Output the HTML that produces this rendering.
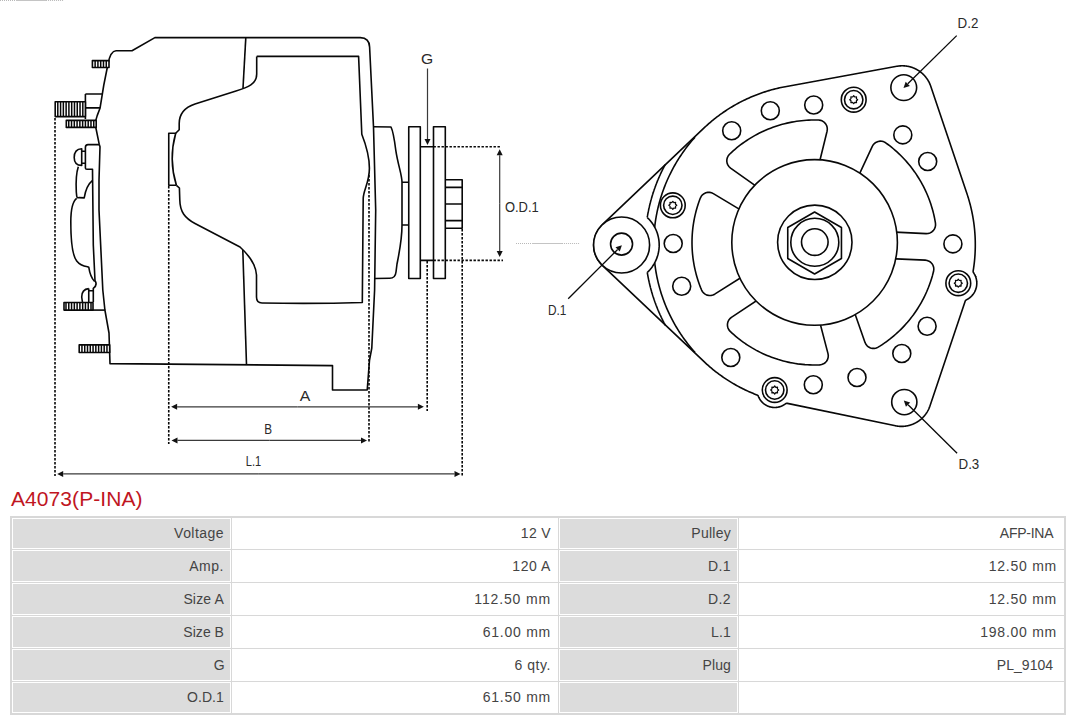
<!DOCTYPE html>
<html><head><meta charset="utf-8"><style>
html,body{margin:0;padding:0;background:#fff;}
body{width:1080px;height:720px;position:relative;overflow:hidden;font-family:"Liberation Sans",sans-serif;}
.tb{position:absolute;background:#d8d8d8;}
.c{position:absolute;box-sizing:border-box;border:1px solid #fff;text-align:right;padding-right:6px;font-size:14px;color:#444;white-space:pre;}
.lab{background:#dcdcdc;}
.val{background:#fff;}
.title{position:absolute;left:11px;top:485.5px;font-size:21px;color:#c0161f;letter-spacing:0.070px;white-space:nowrap;line-height:26px;}
svg{position:absolute;left:0;top:0;}
.lb{font-family:"Liberation Sans",sans-serif;}
</style></head><body>
<svg width="1080" height="720" viewBox="0 0 1080 720" stroke-linejoin="round" stroke-linecap="butt">
<path d="M154.9 37.6 L360.3 37.6 Q369.3 37.8 369.6 47 L373.5 126.7 L375.7 210 L374.6 290 L371.8 348 L369.5 360.3 L367.2 390 L332.5 390 L332.5 365.6 L110 363.6 L109 333 L104.9 310 L102.8 290 L99 210 L99 180 L100 146.7 L99.2 144.2 L95.8 127.5 L95.8 120.4 L97.2 115.6 L100 108.3 L103.8 85 L108 64 Q110.5 51 116 50.8 L132 50.8 Z" fill="none" stroke="#080808" stroke-width="1.6" />
<path d="M245.8 37.6 L243 88.3" fill="none" stroke="#080808" stroke-width="1.6" />
<path d="M256.7 56.4 L358.6 56.4 L361.8 134.3 C366 145 369.4 155 369.4 168.3 C369.4 183 363.2 190 363.2 198.9 L362.3 302.5 C330 303.5 290 303.5 262 303 Q256.5 303 256.5 297 L256.5 275 C256 266 252 258 240 247 L195 223.5 C185 218 180 212 179.8 200 L179.4 188 L176.4 185.3 M175.7 133.2 L179.2 129.7 L179.2 124 C179 112 186 107 195 104 L236 91 C248 87.5 256.7 84 256.7 74 L256.7 56.4" fill="none" stroke="#080808" stroke-width="1.6" />
<path d="M176.4 185.3 L168.75 185.3 L168.75 133.2 L175.7 133.2 C171 150 171 168 176.4 185.3" fill="none" stroke="#080808" stroke-width="1.6" />
<path d="M242.8 250 L246.5 364.3" fill="none" stroke="#080808" stroke-width="1.6" />
<path d="M99.2 144.6 L88 144.6 Q85.4 144.6 85.4 147.5 L85.4 167.9 Q85.4 169.2 87 169.2 L92.5 169.2 L93.3 245 L95 280.8 C96.8 283.5 96.5 286 93.3 288.3 L93.3 302" fill="none" stroke="#080808" stroke-width="1.6" />
<path d="M81.7 151.25 L85.4 151.25 M81.7 163.3 L85.4 163.3 M81.7 148.75 C76 149 74.2 153 74.2 157.5 C74.2 162 76 165.4 81.7 165.4 Z" fill="none" stroke="#080808" stroke-width="1.6" />
<path d="M78.3 166.7 C76.5 172 75.8 182 76.3 192 L76.7 196 Q76.9 198.3 79.2 197.6 L84.2 197.9 C85.5 190 88 184 92.6 180.4" fill="none" stroke="#080808" stroke-width="1.6" />
<path d="M76.7 198.3 C73 201 70.8 210 70.8 222 C70.8 240 72 255 76.7 261 C79 264 83 266 87.5 266.7 L88.75 267.2 C89.5 272 91 278 94.6 281.5" fill="none" stroke="#080808" stroke-width="1.6" />
<path d="M88.75 302 L88.75 288.6 M88.75 290.8 L93.3 290.8 M88.75 288.6 C84.5 289 81.7 292 81.7 297 L82.5 302.5" fill="none" stroke="#080808" stroke-width="1.6" />
<path d="M93 310.1 L104.9 310.1" fill="none" stroke="#080808" stroke-width="1.6" />
<path d="M85.4 94 L102 94 M85.4 94 L85.4 119 M85.4 107.9 L100 107.9" fill="none" stroke="#080808" stroke-width="1.6" />
<rect x="92.40" y="60.60" width="16.60" height="6.90" fill="#fff" stroke="#080808" stroke-width="1.6"/>
<line x1="95.14" y1="60.60" x2="95.14" y2="67.50" stroke="#080808" stroke-width="1.5"/>
<line x1="97.92" y1="60.60" x2="97.92" y2="67.50" stroke="#080808" stroke-width="1.5"/>
<line x1="100.70" y1="60.60" x2="100.70" y2="67.50" stroke="#080808" stroke-width="1.5"/>
<line x1="103.48" y1="60.60" x2="103.48" y2="67.50" stroke="#080808" stroke-width="1.5"/>
<line x1="106.26" y1="60.60" x2="106.26" y2="67.50" stroke="#080808" stroke-width="1.5"/>
<rect x="55.20" y="101.70" width="30.20" height="14.90" fill="#fff" stroke="#080808" stroke-width="1.6"/>
<line x1="57.79" y1="101.70" x2="57.79" y2="116.60" stroke="#080808" stroke-width="1.5"/>
<line x1="60.57" y1="101.70" x2="60.57" y2="116.60" stroke="#080808" stroke-width="1.5"/>
<line x1="63.35" y1="101.70" x2="63.35" y2="116.60" stroke="#080808" stroke-width="1.5"/>
<line x1="66.13" y1="101.70" x2="66.13" y2="116.60" stroke="#080808" stroke-width="1.5"/>
<line x1="68.91" y1="101.70" x2="68.91" y2="116.60" stroke="#080808" stroke-width="1.5"/>
<line x1="71.69" y1="101.70" x2="71.69" y2="116.60" stroke="#080808" stroke-width="1.5"/>
<line x1="74.47" y1="101.70" x2="74.47" y2="116.60" stroke="#080808" stroke-width="1.5"/>
<line x1="77.25" y1="101.70" x2="77.25" y2="116.60" stroke="#080808" stroke-width="1.5"/>
<line x1="80.03" y1="101.70" x2="80.03" y2="116.60" stroke="#080808" stroke-width="1.5"/>
<line x1="82.81" y1="101.70" x2="82.81" y2="116.60" stroke="#080808" stroke-width="1.5"/>
<rect x="66.30" y="120.40" width="29.90" height="7.00" fill="#fff" stroke="#080808" stroke-width="1.6"/>
<line x1="68.74" y1="120.40" x2="68.74" y2="127.40" stroke="#080808" stroke-width="1.5"/>
<line x1="71.52" y1="120.40" x2="71.52" y2="127.40" stroke="#080808" stroke-width="1.5"/>
<line x1="74.30" y1="120.40" x2="74.30" y2="127.40" stroke="#080808" stroke-width="1.5"/>
<line x1="77.08" y1="120.40" x2="77.08" y2="127.40" stroke="#080808" stroke-width="1.5"/>
<line x1="79.86" y1="120.40" x2="79.86" y2="127.40" stroke="#080808" stroke-width="1.5"/>
<line x1="82.64" y1="120.40" x2="82.64" y2="127.40" stroke="#080808" stroke-width="1.5"/>
<line x1="85.42" y1="120.40" x2="85.42" y2="127.40" stroke="#080808" stroke-width="1.5"/>
<line x1="88.20" y1="120.40" x2="88.20" y2="127.40" stroke="#080808" stroke-width="1.5"/>
<line x1="90.98" y1="120.40" x2="90.98" y2="127.40" stroke="#080808" stroke-width="1.5"/>
<line x1="93.76" y1="120.40" x2="93.76" y2="127.40" stroke="#080808" stroke-width="1.5"/>
<rect x="64.00" y="302.50" width="29.00" height="7.60" fill="#fff" stroke="#080808" stroke-width="1.6"/>
<line x1="65.99" y1="302.50" x2="65.99" y2="310.10" stroke="#080808" stroke-width="1.5"/>
<line x1="68.77" y1="302.50" x2="68.77" y2="310.10" stroke="#080808" stroke-width="1.5"/>
<line x1="71.55" y1="302.50" x2="71.55" y2="310.10" stroke="#080808" stroke-width="1.5"/>
<line x1="74.33" y1="302.50" x2="74.33" y2="310.10" stroke="#080808" stroke-width="1.5"/>
<line x1="77.11" y1="302.50" x2="77.11" y2="310.10" stroke="#080808" stroke-width="1.5"/>
<line x1="79.89" y1="302.50" x2="79.89" y2="310.10" stroke="#080808" stroke-width="1.5"/>
<line x1="82.67" y1="302.50" x2="82.67" y2="310.10" stroke="#080808" stroke-width="1.5"/>
<line x1="85.45" y1="302.50" x2="85.45" y2="310.10" stroke="#080808" stroke-width="1.5"/>
<line x1="88.23" y1="302.50" x2="88.23" y2="310.10" stroke="#080808" stroke-width="1.5"/>
<line x1="91.01" y1="302.50" x2="91.01" y2="310.10" stroke="#080808" stroke-width="1.5"/>
<rect x="79.20" y="344.90" width="30.50" height="7.60" fill="#fff" stroke="#080808" stroke-width="1.6"/>
<line x1="81.94" y1="344.90" x2="81.94" y2="352.50" stroke="#080808" stroke-width="1.5"/>
<line x1="84.72" y1="344.90" x2="84.72" y2="352.50" stroke="#080808" stroke-width="1.5"/>
<line x1="87.50" y1="344.90" x2="87.50" y2="352.50" stroke="#080808" stroke-width="1.5"/>
<line x1="90.28" y1="344.90" x2="90.28" y2="352.50" stroke="#080808" stroke-width="1.5"/>
<line x1="93.06" y1="344.90" x2="93.06" y2="352.50" stroke="#080808" stroke-width="1.5"/>
<line x1="95.84" y1="344.90" x2="95.84" y2="352.50" stroke="#080808" stroke-width="1.5"/>
<line x1="98.62" y1="344.90" x2="98.62" y2="352.50" stroke="#080808" stroke-width="1.5"/>
<line x1="101.40" y1="344.90" x2="101.40" y2="352.50" stroke="#080808" stroke-width="1.5"/>
<line x1="104.18" y1="344.90" x2="104.18" y2="352.50" stroke="#080808" stroke-width="1.5"/>
<line x1="106.96" y1="344.90" x2="106.96" y2="352.50" stroke="#080808" stroke-width="1.5"/>
<path d="M373.5 126.7 L391 127 C393 131 394 136 395.8 150.3 C398 165 402 175 402 182.2 L409 182.2 M402 182.2 L402 225 L409 225 M402 225 C402 240 399 254 397 264 L396 272 C395.5 277 393 278.3 389.7 278.3 L375 278.5" fill="none" stroke="#080808" stroke-width="1.6" />
<path d="M408.75 126.7 L420.3 126.7 L420.3 278.5 L408.75 278.5 Z" fill="none" stroke="#080808" stroke-width="1.6" />
<path d="M433.5 126.7 L445.3 126.7 L445.3 278.5 L433.5 278.5 Z" fill="none" stroke="#080808" stroke-width="1.6" />
<path d="M445.3 179.7 L462.2 179.7 L462.2 228.2 L445.3 228.2 M445.3 187.4 L462.2 187.4 M445.3 204 L462.2 204 M445.3 220.6 L462.2 220.6" fill="none" stroke="#080808" stroke-width="1.6" />
<path d="M420.3 146.8 L433.5 146.8 M420.3 260.4 L433.5 260.4" fill="none" stroke="#080808" stroke-width="1.6" />
<line x1="433.50" y1="146.80" x2="500.40" y2="146.80" stroke="#080808" stroke-width="1.6" stroke-dasharray="2.4 1.6"/>
<line x1="433.50" y1="260.40" x2="503.00" y2="260.40" stroke="#080808" stroke-width="1.6" stroke-dasharray="2.4 1.6"/>
<line x1="55.00" y1="118.00" x2="55.00" y2="476.00" stroke="#080808" stroke-width="1.6" stroke-dasharray="2.4 1.6"/>
<line x1="168.75" y1="186.00" x2="168.75" y2="444.00" stroke="#080808" stroke-width="1.6" stroke-dasharray="2.4 1.6"/>
<line x1="369.00" y1="175.00" x2="369.00" y2="443.00" stroke="#080808" stroke-width="1.6" stroke-dasharray="2.4 1.6"/>
<line x1="427.20" y1="261.00" x2="427.20" y2="411.00" stroke="#080808" stroke-width="1.6" stroke-dasharray="2.4 1.6"/>
<line x1="462.20" y1="229.00" x2="462.20" y2="476.00" stroke="#080808" stroke-width="1.6" stroke-dasharray="2.4 1.6"/>
<line x1="297.50" y1="406.80" x2="177.10" y2="406.80" stroke="#3a3a3a" stroke-width="1.3"/>
<path d="M171.10 406.80 L177.10 403.80 L177.10 409.80 Z" fill="#111"/>
<line x1="297.50" y1="406.80" x2="417.90" y2="406.80" stroke="#3a3a3a" stroke-width="1.3"/>
<path d="M423.90 406.80 L417.90 409.80 L417.90 403.80 Z" fill="#111"/>
<line x1="269.25" y1="440.40" x2="177.50" y2="440.40" stroke="#3a3a3a" stroke-width="1.3"/>
<path d="M171.50 440.40 L177.50 437.40 L177.50 443.40 Z" fill="#111"/>
<line x1="269.25" y1="440.40" x2="361.00" y2="440.40" stroke="#3a3a3a" stroke-width="1.3"/>
<path d="M367.00 440.40 L361.00 443.40 L361.00 437.40 Z" fill="#111"/>
<line x1="258.85" y1="473.90" x2="63.20" y2="473.90" stroke="#3a3a3a" stroke-width="1.3"/>
<path d="M57.20 473.90 L63.20 470.90 L63.20 476.90 Z" fill="#111"/>
<line x1="258.85" y1="473.90" x2="454.50" y2="473.90" stroke="#3a3a3a" stroke-width="1.3"/>
<path d="M460.50 473.90 L454.50 476.90 L454.50 470.90 Z" fill="#111"/>
<line x1="499.70" y1="203.15" x2="499.70" y2="155.20" stroke="#3a3a3a" stroke-width="1.2"/>
<path d="M499.70 149.20 L502.70 155.20 L496.70 155.20 Z" fill="#111"/>
<line x1="499.70" y1="203.15" x2="499.70" y2="251.10" stroke="#3a3a3a" stroke-width="1.2"/>
<path d="M499.70 257.10 L496.70 251.10 L502.70 251.10 Z" fill="#111"/>
<line x1="427.50" y1="68.50" x2="427.50" y2="139.00" stroke="#3a3a3a" stroke-width="1.2"/>
<path d="M427.50 145.00 L424.50 139.00 L430.50 139.00 Z" fill="#111"/>
<text x="299.8" y="400.8" font-size="13.8" fill="#2a2a2a" class="lb" textLength="10.6" lengthAdjust="spacingAndGlyphs">A</text>
<text x="264.2" y="433.5" font-size="13.8" fill="#2a2a2a" class="lb" textLength="7.8" lengthAdjust="spacingAndGlyphs">B</text>
<text x="245.8" y="466.1" font-size="13.8" fill="#2a2a2a" class="lb" textLength="15.4" lengthAdjust="spacingAndGlyphs">L.1</text>
<text x="421.0" y="63.6" font-size="13.8" fill="#2a2a2a" class="lb" textLength="12.2" lengthAdjust="spacingAndGlyphs">G</text>
<text x="504.9" y="212.2" font-size="13.8" fill="#2a2a2a" class="lb" textLength="33.8" lengthAdjust="spacingAndGlyphs">O.D.1</text>
<text x="548.0" y="314.7" font-size="13.8" fill="#2a2a2a" class="lb" textLength="18.4" lengthAdjust="spacingAndGlyphs">D.1</text>
<text x="957.6" y="27.8" font-size="13.8" fill="#2a2a2a" class="lb" textLength="20.8" lengthAdjust="spacingAndGlyphs">D.2</text>
<text x="958.5" y="468.8" font-size="13.8" fill="#2a2a2a" class="lb" textLength="20.8" lengthAdjust="spacingAndGlyphs">D.3</text>
<line x1="516.00" y1="243.50" x2="532.00" y2="243.50" stroke="#b8b8b8" stroke-width="1" stroke-dasharray="1 1"/>
<line x1="532.00" y1="243.50" x2="562.08" y2="243.50" stroke="#c4c4c4" stroke-width="1" />
<line x1="562.08" y1="243.50" x2="580.00" y2="243.50" stroke="#b8b8b8" stroke-width="1" stroke-dasharray="1 1"/>
<line x1="0.00" y1="0.50" x2="16.00" y2="0.50" stroke="#b8b8b8" stroke-width="1" stroke-dasharray="1 1"/>
<line x1="16.00" y1="0.50" x2="46.08" y2="0.50" stroke="#c4c4c4" stroke-width="1" />
<line x1="46.08" y1="0.50" x2="64.00" y2="0.50" stroke="#b8b8b8" stroke-width="1" stroke-dasharray="1 1"/>
<path d="M756.96 394.95 L757.02 394.98 L757.08 395.00 L757.13 395.03 L757.19 395.05 L757.24 395.08 L757.30 395.11 L757.35 395.14 L757.40 395.17 L757.45 395.20 L757.50 395.24 L757.55 395.27 L757.60 395.31 L757.65 395.35 L757.70 395.39 L757.75 395.43 L757.79 395.47 L757.83 395.51 L757.88 395.56 L757.92 395.60 L757.96 395.65 L758.00 395.69 L758.04 395.74 L758.08 395.79 L758.11 395.84 L758.15 395.89 L758.18 395.94 L758.21 395.99 L758.24 396.05 L758.27 396.10 L758.30 396.15 L758.33 396.21 L758.36 396.26 L758.38 396.32 L758.40 396.38 L758.45 396.49 L758.45 396.51 L758.53 396.69 L758.54 396.70 L758.61 396.89 L758.62 396.90 L758.70 397.08 L758.70 397.10 L758.79 397.28 L758.79 397.29 L758.88 397.48 L758.88 397.49 L758.97 397.67 L758.98 397.68 L759.07 397.86 L759.07 397.88 L759.16 398.05 L759.17 398.07 L759.26 398.24 L759.27 398.26 L759.37 398.43 L759.37 398.44 L759.47 398.62 L759.48 398.63 L759.58 398.81 L759.58 398.82 L759.69 398.99 L759.69 399.00 L759.80 399.17 L759.81 399.19 L759.91 399.36 L759.92 399.37 L760.03 399.54 L760.04 399.55 L760.15 399.72 L760.15 399.73 L760.27 399.89 L760.27 399.91 L760.39 400.07 L760.40 400.08 L760.51 400.25 L760.52 400.26 L760.64 400.42 L760.65 400.43 L760.77 400.59 L760.78 400.60 L760.90 400.76 L760.91 400.77 L761.03 400.93 L761.04 400.94 L761.17 401.10 L761.18 401.11 L761.30 401.26 L761.31 401.27 L761.44 401.42 L761.45 401.44 L761.59 401.59 L761.60 401.60 L761.73 401.75 L761.74 401.76 L761.87 401.90 L761.88 401.92 L762.02 402.06 L762.03 402.07 L762.17 402.22 L762.18 402.23 L762.32 402.37 L762.33 402.38 L762.47 402.52 L762.48 402.53 L762.63 402.67 L762.64 402.68 L762.78 402.82 L762.80 402.83 L762.94 402.96 L762.95 402.97 L763.10 403.10 L763.11 403.11 L763.26 403.25 L763.28 403.26 L763.43 403.39 L763.44 403.40 L763.59 403.52 L763.60 403.53 L763.76 403.66 L763.77 403.67 L763.93 403.79 L763.94 403.80 L764.10 403.92 L764.11 403.93 L764.27 404.05 L764.28 404.06 L764.44 404.18 L764.45 404.19 L764.62 404.30 L764.63 404.31 L764.79 404.43 L764.81 404.43 L764.97 404.55 L764.98 404.55 L765.15 404.66 L765.16 404.67 L765.33 404.78 L765.34 404.79 L765.51 404.89 L765.53 404.90 L765.70 405.01 L765.71 405.01 L765.88 405.12 L765.89 405.12 L766.07 405.22 L766.08 405.23 L766.26 405.33 L766.27 405.33 L766.44 405.43 L766.46 405.44 L766.63 405.53 L766.65 405.54 L766.82 405.63 L766.84 405.63 L767.02 405.72 L767.03 405.73 L767.21 405.82 L767.22 405.82 L767.41 405.91 L767.42 405.91 L767.60 406.00 L767.62 406.00 L767.80 406.08 L767.81 406.09 L768.00 406.16 L768.01 406.17 L768.19 406.25 L768.21 406.25 L768.39 406.32 L768.41 406.33 L768.60 406.40 L768.61 406.41 L768.80 406.47 L768.81 406.48 L769.00 406.55 L769.01 406.55 L769.20 406.61 L769.22 406.62 L769.41 406.68 L769.42 406.69 L769.61 406.74 L769.63 406.75 L769.82 406.81 L769.83 406.81 L770.03 406.86 L770.04 406.87 L770.23 406.92 L770.25 406.92 L770.44 406.97 L770.46 406.98 L770.65 407.02 L770.66 407.03 L770.86 407.07 L770.87 407.08 L771.07 407.12 L771.08 407.12 L771.28 407.16 L771.29 407.17 L771.49 407.20 L771.50 407.21 L771.70 407.24 L771.72 407.24 L771.91 407.28 L771.93 407.28 L772.12 407.31 L772.14 407.31 L772.34 407.34 L772.35 407.34 L772.55 407.37 L772.57 407.37 L772.76 407.39 L772.78 407.39 L772.98 407.41 L772.99 407.42 L773.19 407.43 L773.21 407.44 L773.40 407.45 L773.42 407.45 L773.62 407.47 L773.63 407.47 L773.83 407.48 L773.85 407.48 L774.05 407.49 L774.06 407.49 L774.26 407.49 L774.28 407.49 L774.48 407.50 L774.49 407.50 L774.69 407.50 L774.71 407.50 L774.91 407.50 L774.92 407.50 L775.12 407.49 L775.14 407.49 L775.34 407.49 L775.35 407.49 L775.55 407.48 L775.57 407.48 L775.77 407.47 L775.78 407.47 L775.98 407.45 L776.00 407.45 L776.19 407.44 L776.21 407.43 L776.41 407.42 L776.42 407.41 L776.62 407.39 L776.64 407.39 L776.83 407.37 L776.85 407.37 L777.05 407.34 L777.06 407.34 L777.26 407.31 L777.28 407.31 L777.47 407.28 L777.49 407.28 L777.68 407.24 L777.70 407.24 L777.90 407.21 L777.91 407.20 L778.11 407.17 L778.12 407.16 L778.32 407.12 L778.33 407.12 L778.53 407.08 L778.54 407.07 L778.74 407.03 L778.75 407.02 L778.94 406.98 L778.96 406.97 L779.15 406.92 L779.17 406.92 L779.36 406.87 L779.37 406.86 L779.57 406.81 L779.58 406.81 L779.77 406.75 L779.79 406.74 L779.98 406.69 L779.99 406.68 L780.18 406.62 L780.20 406.61 L780.39 406.55 L780.40 406.55 L780.59 406.48 L780.60 406.47 L780.79 406.41 L780.80 406.40 L780.99 406.33 L781.01 406.32 L781.19 406.25 L781.21 406.25 L781.39 406.17 L781.40 406.16 L781.59 406.09 L781.60 406.08 L781.78 406.00 L781.80 406.00 L781.98 405.91 L781.99 405.91 L782.18 405.82 L782.19 405.82 L782.37 405.73 L782.38 405.72 L782.56 405.63 L782.58 405.63 L782.75 405.54 L782.77 405.53 L782.94 405.44 L782.96 405.43 L783.13 405.33 L783.14 405.33 L783.32 405.23 L783.33 405.22 L783.51 405.12 L783.52 405.12 L783.69 405.01 L783.70 405.01 L783.87 404.90 L783.89 404.89 L784.06 404.79 L784.07 404.78 L784.24 404.67 L784.25 404.66 L784.42 404.55 L784.43 404.55 L784.59 404.43 L784.61 404.43 L784.77 404.31 L784.78 404.30 L784.95 404.19 L784.96 404.18 L785.12 404.06 L785.13 404.05 L785.29 403.93 L785.30 403.92 L785.37 403.87 L785.42 403.83 L785.47 403.80 L785.52 403.76 L785.57 403.73 L785.63 403.70 L785.68 403.67 L785.73 403.64 L785.79 403.61 L785.85 403.58 L785.90 403.56 L785.96 403.53 L786.02 403.51 L786.07 403.49 L786.13 403.47 L786.19 403.45 L786.25 403.43 L786.31 403.42 L786.37 403.41 L786.43 403.39 L786.49 403.38 L786.55 403.37 L786.61 403.37 L786.67 403.36 L786.73 403.35 L786.79 403.35 L786.86 403.35 L786.92 403.35 L786.98 403.35 L787.04 403.35 L787.10 403.36 L787.16 403.36 L787.22 403.37 L787.29 403.38 L787.35 403.39 L787.41 403.40 L895.51 425.80 L895.77 425.85 L896.02 425.90 L896.28 425.94 L896.54 425.99 L896.80 426.03 L897.06 426.07 L897.31 426.11 L897.57 426.14 L897.83 426.18 L898.09 426.21 L898.35 426.23 L898.61 426.26 L898.88 426.28 L899.14 426.31 L899.40 426.33 L899.66 426.34 L899.92 426.36 L900.18 426.37 L900.44 426.38 L900.70 426.39 L900.97 426.40 L901.23 426.40 L901.49 426.40 L901.75 426.40 L902.01 426.40 L902.28 426.39 L902.54 426.38 L902.80 426.37 L903.06 426.36 L903.32 426.34 L903.58 426.33 L903.84 426.31 L904.10 426.29 L904.37 426.26 L904.63 426.24 L904.89 426.21 L905.15 426.18 L905.41 426.14 L905.67 426.11 L905.92 426.07 L906.18 426.03 L906.44 425.99 L906.70 425.95 L906.96 425.90 L907.21 425.85 L907.47 425.80 L907.73 425.75 L907.98 425.69 L908.24 425.63 L908.49 425.57 L908.75 425.51 L909.00 425.45 L909.25 425.38 L909.51 425.31 L909.76 425.24 L910.01 425.17 L910.26 425.09 L910.51 425.01 L910.76 424.93 L911.01 424.85 L911.26 424.77 L911.50 424.68 L911.75 424.59 L912.00 424.50 L912.24 424.41 L912.49 424.32 L912.73 424.22 L912.97 424.12 L913.21 424.02 L913.45 423.92 L913.69 423.81 L913.93 423.70 L914.17 423.59 L914.41 423.48 L914.64 423.37 L914.88 423.25 L915.11 423.13 L915.34 423.01 L915.58 422.89 L915.81 422.77 L916.04 422.64 L916.26 422.52 L916.49 422.39 L916.72 422.25 L916.94 422.12 L917.17 421.98 L917.39 421.85 L917.61 421.71 L917.83 421.57 L918.05 421.42 L918.27 421.28 L918.48 421.13 L918.70 420.98 L918.91 420.83 L919.13 420.68 L919.34 420.52 L919.55 420.37 L919.75 420.21 L919.96 420.05 L920.17 419.88 L920.37 419.72 L920.57 419.56 L920.78 419.39 L920.98 419.22 L921.17 419.05 L921.37 418.88 L921.57 418.70 L921.76 418.53 L921.95 418.35 L922.14 418.17 L922.33 417.99 L922.52 417.80 L922.71 417.62 L922.89 417.43 L923.07 417.25 L923.25 417.06 L923.43 416.87 L923.61 416.68 L923.79 416.48 L923.96 416.29 L924.13 416.09 L924.31 415.89 L924.47 415.69 L924.64 415.49 L924.81 415.29 L924.97 415.08 L925.13 414.88 L925.29 414.67 L925.45 414.46 L925.61 414.25 L925.76 414.04 L925.92 413.83 L926.07 413.62 L926.22 413.40 L926.37 413.18 L926.51 412.97 L926.65 412.75 L926.80 412.53 L926.94 412.31 L927.07 412.08 L927.21 411.86 L927.34 411.63 L927.48 411.41 L927.61 411.18 L927.73 410.95 L927.86 410.72 L927.98 410.49 L928.11 410.26 L928.23 410.03 L928.34 409.79 L928.46 409.56 L928.57 409.32 L928.68 409.09 L928.79 408.85 L928.90 408.61 L929.01 408.37 L929.11 408.13 L929.21 407.89 L929.31 407.65 L929.41 407.40 L929.50 407.16 L929.60 406.92 L929.69 406.67 L929.78 406.42 L929.86 406.18 L929.95 405.92 L965.16 301.27 L965.18 301.21 L965.20 301.15 L965.22 301.09 L965.25 301.04 L965.27 300.98 L965.30 300.93 L965.33 300.87 L965.36 300.82 L965.39 300.77 L965.42 300.71 L965.46 300.66 L965.49 300.61 L965.53 300.56 L965.57 300.51 L965.61 300.47 L965.64 300.42 L965.69 300.37 L965.73 300.33 L965.77 300.29 L965.82 300.24 L965.86 300.20 L965.91 300.16 L965.95 300.12 L966.00 300.08 L966.05 300.05 L966.10 300.01 L966.15 299.98 L966.20 299.94 L966.26 299.91 L966.31 299.88 L966.36 299.85 L966.42 299.82 L966.61 299.73 L966.62 299.72 L966.81 299.62 L966.83 299.62 L967.01 299.52 L967.03 299.51 L967.21 299.41 L967.23 299.40 L967.41 299.30 L967.43 299.29 L967.61 299.19 L967.62 299.18 L967.80 299.07 L967.82 299.06 L968.00 298.95 L968.01 298.95 L968.19 298.83 L968.20 298.83 L968.38 298.71 L968.39 298.70 L968.57 298.59 L968.58 298.58 L968.76 298.46 L968.77 298.45 L968.95 298.33 L968.96 298.32 L969.13 298.20 L969.14 298.19 L969.31 298.06 L969.33 298.05 L969.50 297.93 L969.51 297.92 L969.68 297.79 L969.69 297.78 L969.85 297.65 L969.87 297.64 L970.03 297.51 L970.04 297.50 L970.20 297.36 L970.22 297.35 L970.38 297.21 L970.39 297.20 L970.55 297.06 L970.56 297.05 L970.72 296.91 L970.73 296.90 L970.89 296.76 L970.90 296.75 L971.05 296.60 L971.06 296.59 L971.21 296.45 L971.23 296.44 L971.38 296.29 L971.39 296.28 L971.54 296.13 L971.55 296.11 L971.69 295.96 L971.70 295.95 L971.85 295.80 L971.86 295.79 L972.00 295.63 L972.01 295.62 L972.15 295.46 L972.16 295.45 L972.30 295.29 L972.31 295.28 L972.45 295.12 L972.46 295.10 L972.60 294.94 L972.61 294.93 L972.74 294.77 L972.75 294.75 L972.88 294.59 L972.89 294.58 L973.02 294.41 L973.03 294.40 L973.15 294.23 L973.16 294.21 L973.29 294.04 L973.30 294.03 L973.42 293.86 L973.43 293.85 L973.55 293.67 L973.56 293.66 L973.68 293.48 L973.69 293.47 L973.80 293.29 L973.81 293.28 L973.93 293.10 L973.93 293.09 L974.05 292.91 L974.05 292.90 L974.16 292.72 L974.17 292.70 L974.28 292.52 L974.29 292.51 L974.39 292.33 L974.40 292.31 L974.50 292.13 L974.51 292.11 L974.61 291.93 L974.62 291.91 L974.72 291.73 L974.72 291.71 L974.82 291.52 L974.83 291.51 L974.92 291.32 L974.93 291.31 L975.02 291.12 L975.03 291.10 L975.12 290.91 L975.12 290.90 L975.21 290.70 L975.22 290.69 L975.30 290.50 L975.31 290.48 L975.39 290.29 L975.39 290.27 L975.47 290.08 L975.48 290.06 L975.56 289.87 L975.56 289.85 L975.64 289.65 L975.64 289.64 L975.72 289.44 L975.72 289.43 L975.79 289.23 L975.80 289.21 L975.86 289.01 L975.87 289.00 L975.93 288.79 L975.94 288.78 L976.00 288.58 L976.01 288.56 L976.07 288.36 L976.07 288.35 L976.13 288.14 L976.13 288.13 L976.19 287.92 L976.19 287.91 L976.24 287.70 L976.25 287.69 L976.30 287.48 L976.30 287.47 L976.35 287.26 L976.35 287.25 L976.40 287.04 L976.40 287.02 L976.44 286.82 L976.45 286.80 L976.49 286.59 L976.49 286.58 L976.53 286.37 L976.53 286.36 L976.56 286.15 L976.57 286.13 L976.60 285.92 L976.60 285.91 L976.63 285.70 L976.63 285.68 L976.66 285.47 L976.66 285.46 L976.69 285.25 L976.69 285.23 L976.71 285.02 L976.71 285.01 L976.73 284.79 L976.73 284.78 L976.75 284.57 L976.75 284.55 L976.76 284.34 L976.77 284.33 L976.78 284.12 L976.78 284.10 L976.79 283.89 L976.79 283.87 L976.79 283.66 L976.79 283.65 L976.80 283.43 L976.80 283.42 L976.80 283.21 L976.80 283.19 L976.80 282.98 L976.80 282.97 L976.79 282.75 L976.79 282.74 L976.79 282.53 L976.79 282.51 L976.78 282.30 L976.78 282.28 L976.77 282.07 L976.76 282.06 L976.75 281.85 L976.75 281.83 L976.73 281.62 L976.73 281.61 L976.71 281.39 L976.71 281.38 L976.69 281.17 L976.69 281.15 L976.66 280.94 L976.66 280.93 L976.63 280.72 L976.63 280.70 L976.60 280.49 L976.60 280.48 L976.57 280.27 L976.56 280.25 L976.53 280.04 L976.53 280.03 L976.49 279.82 L976.49 279.81 L976.45 279.60 L976.44 279.58 L976.40 279.38 L976.40 279.36 L976.35 279.15 L976.35 279.14 L976.30 278.93 L976.30 278.92 L976.25 278.71 L976.24 278.70 L976.19 278.49 L976.19 278.48 L976.13 278.27 L976.13 278.26 L976.07 278.05 L976.07 278.04 L976.01 277.84 L976.00 277.82 L975.94 277.62 L975.93 277.61 L975.87 277.40 L975.86 277.39 L975.80 277.19 L975.79 277.17 L975.72 276.97 L975.72 276.96 L975.64 276.76 L975.64 276.75 L975.56 276.55 L975.56 276.53 L975.48 276.34 L975.47 276.32 L975.39 276.13 L975.39 276.11 L975.31 275.92 L975.30 275.90 L975.22 275.71 L975.21 275.70 L975.12 275.50 L975.12 275.49 L975.03 275.30 L975.02 275.28 L974.93 275.09 L974.92 275.08 L974.83 274.89 L974.82 274.88 L974.72 274.69 L974.72 274.67 L974.62 274.49 L974.61 274.47 L974.51 274.29 L974.50 274.27 L974.40 274.09 L974.39 274.07 L974.29 273.89 L974.28 273.88 L974.17 273.70 L974.16 273.68 L974.05 273.50 L974.05 273.49 L973.93 273.31 L973.93 273.30 L973.81 273.12 L973.80 273.11 L973.69 272.93 L973.68 272.92 L973.56 272.74 L973.52 272.69 L973.49 272.64 L973.46 272.58 L973.43 272.53 L973.40 272.48 L973.38 272.42 L973.35 272.37 L973.33 272.31 L973.30 272.25 L973.28 272.20 L973.26 272.14 L973.24 272.08 L973.22 272.02 L973.21 271.96 L973.19 271.90 L973.18 271.84 L973.17 271.79 L973.16 271.72 L973.15 271.66 L973.14 271.60 L973.14 271.54 L973.13 271.48 L973.13 271.42 L973.13 271.36 L973.13 271.30 L973.13 271.24 L973.13 271.18 L973.14 271.12 L973.14 271.06 L973.15 271.00 L973.16 270.94 L973.32 269.97 L973.53 268.58 L973.73 267.19 L973.92 265.80 L974.10 264.41 L974.27 263.01 L974.42 261.62 L974.56 260.22 L974.69 258.83 L974.80 257.43 L974.91 256.03 L975.00 254.63 L975.08 253.23 L975.15 251.82 L975.20 250.42 L975.24 249.02 L975.28 247.62 L975.29 246.21 L975.30 244.81 L975.29 243.41 L975.28 242.00 L975.25 240.60 L975.20 239.20 L975.15 237.80 L975.08 236.40 L975.00 234.99 L974.91 233.59 L974.81 232.19 L974.69 230.80 L974.56 229.40 L974.42 228.00 L974.27 226.61 L974.10 225.21 L973.93 223.82 L973.74 222.43 L973.54 221.04 L973.32 219.66 L973.10 218.27 L972.86 216.89 L972.61 215.51 L972.35 214.13 L972.07 212.75 L971.79 211.38 L971.49 210.01 L971.18 208.64 L970.86 207.27 L970.53 205.91 L970.18 204.55 L969.82 203.19 L969.45 201.84 L969.07 200.49 L968.68 199.14 L968.28 197.80 L967.86 196.46 L967.43 195.12 L966.99 193.79 L930.75 86.28 L930.67 86.04 L930.58 85.80 L930.49 85.55 L930.40 85.30 L930.31 85.06 L930.22 84.81 L930.12 84.57 L930.02 84.33 L929.92 84.09 L929.82 83.85 L929.71 83.61 L929.60 83.37 L929.49 83.13 L929.38 82.89 L929.27 82.66 L929.15 82.42 L929.03 82.19 L928.91 81.96 L928.79 81.72 L928.67 81.49 L928.54 81.26 L928.42 81.04 L928.29 80.81 L928.15 80.58 L928.02 80.36 L927.88 80.13 L927.75 79.91 L927.61 79.69 L927.47 79.47 L927.32 79.25 L927.18 79.03 L927.03 78.82 L926.88 78.60 L926.73 78.39 L926.58 78.17 L926.42 77.96 L926.27 77.75 L926.11 77.55 L925.95 77.34 L925.78 77.13 L925.62 76.93 L925.46 76.73 L925.29 76.52 L925.12 76.32 L924.95 76.13 L924.78 75.93 L924.60 75.73 L924.43 75.54 L924.25 75.35 L924.07 75.16 L923.89 74.97 L923.70 74.78 L923.52 74.59 L923.33 74.41 L923.15 74.23 L922.96 74.05 L922.77 73.87 L922.58 73.69 L922.38 73.51 L922.19 73.34 L921.99 73.17 L921.79 72.99 L921.59 72.83 L921.39 72.66 L921.19 72.49 L920.98 72.33 L920.78 72.17 L920.57 72.01 L920.36 71.85 L920.15 71.69 L919.94 71.54 L919.73 71.38 L919.52 71.23 L919.30 71.08 L919.08 70.93 L918.87 70.79 L918.65 70.65 L918.43 70.50 L918.21 70.36 L917.98 70.23 L917.76 70.09 L917.53 69.96 L917.31 69.82 L917.08 69.69 L916.85 69.57 L916.62 69.44 L916.39 69.32 L916.16 69.19 L915.93 69.07 L915.69 68.96 L915.46 68.84 L915.22 68.73 L914.99 68.62 L914.75 68.51 L914.51 68.40 L914.27 68.29 L914.03 68.19 L913.79 68.09 L913.55 67.99 L913.30 67.89 L913.06 67.80 L912.82 67.70 L912.57 67.61 L912.32 67.52 L912.08 67.44 L911.83 67.35 L911.58 67.27 L911.33 67.19 L911.08 67.11 L910.83 67.04 L910.58 66.96 L910.33 66.89 L910.07 66.82 L909.82 66.76 L909.57 66.69 L909.31 66.63 L909.06 66.57 L908.80 66.51 L908.55 66.46 L908.29 66.40 L908.03 66.35 L907.78 66.30 L907.52 66.26 L907.26 66.21 L907.00 66.17 L906.74 66.13 L906.49 66.09 L906.23 66.06 L905.97 66.02 L905.71 65.99 L905.45 65.97 L905.19 65.94 L904.92 65.92 L904.66 65.89 L904.40 65.87 L904.14 65.86 L903.88 65.84 L903.62 65.83 L903.36 65.82 L903.10 65.81 L902.83 65.80 L902.57 65.80 L902.31 65.80 L902.05 65.80 L901.79 65.80 L901.52 65.81 L901.26 65.82 L901.00 65.83 L900.74 65.84 L900.48 65.86 L900.22 65.87 L899.96 65.89 L899.70 65.91 L899.43 65.94 L899.17 65.96 L898.91 65.99 L898.65 66.02 L898.39 66.06 L898.13 66.09 L897.88 66.13 L897.62 66.17 L897.36 66.21 L897.10 66.25 L896.83 66.30 L785.21 86.69 L783.83 86.95 L782.45 87.23 L781.08 87.51 L779.71 87.81 L778.34 88.12 L776.97 88.44 L775.61 88.77 L774.25 89.12 L772.89 89.48 L771.54 89.85 L770.19 90.23 L768.84 90.62 L767.50 91.02 L766.16 91.44 L764.82 91.87 L763.49 92.31 L762.16 92.76 L760.83 93.22 L759.51 93.69 L758.20 94.18 L756.88 94.68 L755.58 95.18 L754.27 95.70 L752.97 96.24 L751.68 96.78 L750.39 97.33 L749.11 97.90 L747.83 98.47 L746.55 99.06 L745.28 99.66 L744.02 100.27 L742.76 100.89 L741.51 101.52 L740.26 102.16 L739.02 102.82 L737.78 103.48 L736.55 104.16 L735.33 104.84 L734.11 105.54 L732.90 106.24 L731.69 106.96 L730.49 107.69 L729.30 108.43 L728.11 109.18 L726.93 109.94 L725.76 110.71 L724.59 111.48 L723.43 112.27 L722.28 113.07 L721.13 113.88 L719.99 114.70 L718.86 115.53 L717.74 116.37 L716.62 117.22 L715.51 118.08 L714.41 118.95 L713.31 119.83 L712.23 120.72 L711.15 121.61 L710.08 122.52 L709.01 123.44 L707.96 124.36 L706.91 125.30 L705.87 126.24 L704.84 127.19 L703.82 128.16 L602.33 224.69 L602.16 224.85 L601.98 225.02 L601.81 225.19 L601.64 225.37 L601.47 225.54 L601.30 225.72 L601.13 225.90 L600.96 226.08 L600.80 226.26 L600.64 226.44 L600.47 226.62 L600.32 226.81 L600.16 226.99 L600.00 227.18 L599.85 227.37 L599.69 227.56 L599.54 227.75 L599.39 227.95 L599.24 228.14 L599.10 228.34 L598.95 228.53 L598.81 228.73 L598.67 228.93 L598.53 229.13 L598.39 229.33 L598.26 229.54 L598.12 229.74 L597.99 229.95 L597.86 230.15 L597.73 230.36 L597.60 230.57 L597.48 230.78 L597.36 230.99 L597.24 231.20 L597.12 231.42 L597.00 231.63 L596.88 231.85 L596.77 232.06 L596.66 232.28 L596.55 232.50 L596.44 232.72 L596.33 232.94 L596.23 233.16 L596.13 233.38 L596.02 233.60 L595.93 233.83 L595.83 234.05 L595.74 234.28 L595.64 234.50 L595.55 234.73 L595.46 234.96 L595.38 235.18 L595.29 235.41 L595.21 235.64 L595.13 235.87 L595.05 236.11 L594.97 236.34 L594.90 236.57 L594.83 236.80 L594.76 237.04 L594.69 237.27 L594.62 237.51 L594.56 237.74 L594.49 237.98 L594.43 238.22 L594.38 238.45 L594.32 238.69 L594.27 238.93 L594.21 239.17 L594.16 239.41 L594.12 239.65 L594.07 239.89 L594.03 240.13 L593.99 240.37 L593.95 240.61 L593.91 240.85 L593.87 241.09 L593.84 241.34 L593.81 241.58 L593.78 241.82 L593.75 242.06 L593.73 242.31 L593.71 242.55 L593.69 242.79 L593.67 243.04 L593.65 243.28 L593.64 243.52 L593.63 243.77 L593.62 244.01 L593.61 244.26 L593.60 244.50 L593.60 244.75 L593.60 244.99 L593.60 245.23 L593.60 245.48 L593.61 245.72 L593.62 245.97 L593.63 246.21 L593.64 246.46 L593.65 246.70 L593.67 246.94 L593.69 247.19 L593.71 247.43 L593.73 247.67 L593.75 247.92 L593.78 248.16 L593.81 248.40 L593.84 248.64 L593.87 248.89 L593.91 249.13 L593.94 249.37 L593.98 249.61 L594.02 249.85 L594.07 250.09 L594.11 250.33 L594.16 250.57 L594.21 250.81 L594.26 251.05 L594.32 251.29 L594.37 251.53 L594.43 251.76 L594.49 252.00 L594.55 252.24 L594.62 252.47 L594.68 252.71 L594.75 252.94 L594.82 253.18 L594.89 253.41 L594.97 253.64 L595.04 253.88 L595.12 254.11 L595.20 254.34 L595.29 254.57 L595.37 254.80 L595.46 255.02 L595.54 255.25 L595.64 255.48 L595.73 255.71 L595.82 255.93 L595.92 256.16 L596.02 256.38 L596.12 256.60 L596.22 256.82 L596.32 257.05 L596.43 257.27 L596.54 257.48 L596.65 257.70 L596.76 257.92 L596.87 258.14 L596.99 258.35 L597.11 258.57 L597.23 258.78 L597.35 258.99 L597.47 259.20 L597.59 259.41 L597.72 259.62 L597.85 259.83 L597.98 260.04 L598.11 260.24 L598.25 260.45 L598.38 260.65 L598.52 260.85 L598.66 261.05 L598.80 261.25 L598.94 261.45 L599.09 261.65 L599.23 261.84 L599.38 262.04 L599.53 262.23 L599.68 262.42 L599.83 262.61 L599.99 262.80 L600.14 262.99 L600.30 263.18 L600.46 263.36 L600.62 263.55 L600.79 263.73 L600.95 263.91 L601.12 264.09 L601.28 264.27 L601.45 264.44 L601.62 264.62 L601.79 264.79 L601.97 264.96 L602.14 265.13 L602.32 265.31 L703.81 361.44 L704.83 362.39 L705.86 363.35 L706.90 364.29 L707.94 365.22 L709.00 366.15 L710.06 367.07 L711.13 367.97 L712.21 368.87 L713.30 369.76 L714.39 370.64 L715.49 371.51 L716.60 372.36 L717.72 373.21 L718.84 374.05 L719.98 374.88 L721.11 375.70 L722.26 376.51 L723.41 377.31 L724.57 378.10 L725.74 378.88 L726.91 379.65 L728.09 380.41 L729.28 381.16 L730.47 381.90 L731.67 382.63 L732.88 383.34 L734.09 384.05 L735.31 384.75 L736.53 385.43 L737.76 386.11 L739.00 386.77 L740.24 387.43 L741.49 388.07 L742.74 388.70 L744.00 389.32 L745.26 389.93 L746.53 390.53 L747.81 391.12 L749.09 391.69 L750.37 392.26 L751.66 392.81 L752.95 393.36 L754.25 393.89 L755.56 394.41 L756.87 394.92 L756.96 394.95 Z" fill="#fff" stroke="#080808" stroke-width="1.6"/>
<path d="M695.00 137.20 L693.72 138.64 L692.46 140.10 L691.21 141.57 L689.99 143.05 L688.78 144.55 L687.58 146.06 L686.41 147.59 L685.26 149.13 L684.12 150.69 L683.00 152.25 L681.90 153.84 L680.82 155.43 L679.76 157.04 L678.72 158.66 L677.70 160.29 L676.70 161.93 L675.71 163.59 L674.75 165.26 L673.81 166.94 L672.89 168.63 L671.98 170.33 L671.10 172.04 L670.24 173.77 L669.40 175.50 L668.58 177.24 L667.78 179.00 L667.00 180.76 L666.25 182.53 L665.51 184.31 L664.80 186.10 L664.11 187.89 L663.43 189.70 L662.79 191.51 L662.16 193.33 L661.55 195.16 L660.97 197.00 L660.41 198.84 L659.87 200.69 L659.35 202.55 L658.86 204.41 L658.38 206.27 L657.93 208.15 L657.51 210.02 L657.10 211.91 L656.72 213.79 L656.36 215.69 L656.02 217.58 L655.71 219.48 L655.41 221.39 L655.14 223.29 L654.90 225.20 L654.68 227.12" fill="none" stroke="#080808" stroke-width="1.6"/>
<path d="M654.71 262.81 L654.94 264.76 L655.20 266.70 L655.48 268.64 L655.78 270.57 L656.10 272.50 L656.45 274.43 L656.82 276.35 L657.22 278.26 L657.64 280.18 L658.08 282.08 L658.55 283.98 L659.04 285.88 L659.55 287.77 L660.08 289.65 L660.64 291.53 L661.22 293.40 L661.82 295.26 L662.45 297.11 L663.10 298.96 L663.77 300.80 L664.46 302.63 L665.17 304.45 L665.91 306.26 L666.67 308.07 L667.45 309.86 L668.25 311.65 L669.08 313.42 L669.92 315.19 L670.79 316.94 L671.68 318.69 L672.59 320.42 L673.52 322.14 L674.47 323.85 L675.45 325.55 L676.44 327.24 L677.45 328.91 L678.49 330.57 L679.54 332.22 L680.61 333.86 L681.71 335.48 L682.82 337.09 L683.96 338.69 L685.11 340.27 L686.28 341.84 L687.47 343.39 L688.68 344.93 L689.91 346.45 L691.15 347.96 L692.42 349.46 L693.70 350.93 L695.00 352.40" fill="none" stroke="#080808" stroke-width="1.6"/>
<path d="M665.10 164.75 L664.92 165.08 L664.74 165.42 L664.56 165.75 L664.38 166.09 L664.21 166.43 L664.03 166.77 L663.86 167.10 L663.68 167.44 L663.51 167.78 L663.34 168.12 L663.16 168.46 L662.99 168.80 L662.82 169.14 L662.65 169.48 L662.49 169.82 L662.32 170.16 L662.15 170.50 L661.98 170.85 L661.82 171.19 L661.65 171.53 L661.49 171.88 L661.33 172.22 L661.16 172.56 L661.00 172.91 L660.84 173.25 L660.68 173.60 L660.52 173.94 L660.36 174.29 L660.20 174.63 L660.05 174.98 L659.89 175.33 L659.74 175.68 L659.58 176.02 L659.43 176.37 L659.27 176.72 L659.12 177.07 L658.97 177.42 L658.82 177.77 L658.67 178.12 L658.52 178.47 L658.37 178.82 L658.22 179.17 L658.08 179.52 L657.93 179.87 L657.78 180.22 L657.64 180.57 L657.50 180.93 L657.35 181.28 L657.21 181.63 L657.07 181.98 L656.93 182.34 L656.79 182.69 L656.65 183.05 L656.51 183.40 L656.37 183.75 L656.24 184.11 L656.10 184.47 L655.97 184.82 L655.83 185.18 L655.70 185.53 L655.57 185.89 L655.43 186.25 L655.30 186.60 L655.17 186.96 L655.04 187.32 L654.92 187.68 L654.79 188.04 L654.66 188.39 L654.53 188.75 L654.41 189.11 L654.28 189.47 L654.16 189.83 L654.04 190.19 L653.92 190.55 L653.79 190.91 L653.67 191.27 L653.55 191.64 L653.43 192.00 L653.32 192.36 L653.20 192.72 L653.08 193.08 L652.97 193.44 L652.85 193.81 L652.74 194.17 L652.62 194.53 L652.51 194.90 L652.40 195.26 L652.29 195.63 L652.18 195.99 L652.07 196.35 L651.96 196.72 L651.86 197.08 L651.75 197.45 L651.64 197.81 L651.54 198.18 L651.43 198.55 L651.33 198.91 L651.23 199.28 L651.13 199.65 L651.02 200.01 L650.92 200.38 L650.82 200.75 L650.73 201.11 L650.63 201.48 L650.53 201.85 L650.44 202.22 L650.34 202.59 L650.25 202.95 L650.15 203.32 L650.06 203.69 L649.97 204.06 L649.88 204.43 L649.79 204.80 L649.70 205.17 L649.61 205.54 L649.52 205.91 L649.43 206.28 L649.35 206.65 L649.26 207.02 L649.18 207.39 L649.10 207.77 L649.01 208.14 L648.93 208.51 L648.85 208.88 L648.77 209.25 L648.69 209.62 L648.61 210.00 L648.53 210.37 L648.46 210.74 L648.38 211.11 L648.31 211.49 L648.23 211.86 L648.16 212.23 L648.09 212.61 L648.01 212.98 L647.94 213.35 L647.87 213.73 L647.80 214.10 L647.73 214.48 L647.67 214.85 L647.60 215.23 L647.53 215.60 L647.47 215.98 L647.40 216.35 L647.34 216.73 L647.28 217.10 L647.22 217.48" fill="none" stroke="#080808" stroke-width="1.6"/>
<path d="M647.27 272.47 L647.34 272.84 L647.40 273.22 L647.46 273.59 L647.53 273.96 L647.59 274.34 L647.66 274.71 L647.73 275.08 L647.80 275.45 L647.86 275.83 L647.93 276.20 L648.00 276.57 L648.08 276.94 L648.15 277.32 L648.22 277.69 L648.29 278.06 L648.37 278.43 L648.45 278.80 L648.52 279.17 L648.60 279.54 L648.68 279.91 L648.76 280.28 L648.84 280.65 L648.92 281.02 L649.00 281.39 L649.08 281.76 L649.16 282.13 L649.25 282.50 L649.33 282.87 L649.42 283.24 L649.50 283.61 L649.59 283.98 L649.68 284.35 L649.77 284.71 L649.86 285.08 L649.95 285.45 L650.04 285.82 L650.13 286.19 L650.22 286.55 L650.32 286.92 L650.41 287.29 L650.51 287.65 L650.60 288.02 L650.70 288.39 L650.80 288.75 L650.90 289.12 L651.00 289.48 L651.10 289.85 L651.20 290.21 L651.30 290.58 L651.40 290.94 L651.50 291.31 L651.61 291.67 L651.71 292.03 L651.82 292.40 L651.93 292.76 L652.03 293.12 L652.14 293.49 L652.25 293.85 L652.36 294.21 L652.47 294.57 L652.58 294.94 L652.70 295.30 L652.81 295.66 L652.92 296.02 L653.04 296.38 L653.15 296.74 L653.27 297.10 L653.39 297.46 L653.51 297.82 L653.63 298.18 L653.75 298.54 L653.87 298.90 L653.99 299.26 L654.11 299.62 L654.23 299.98 L654.36 300.33 L654.48 300.69 L654.61 301.05 L654.73 301.41 L654.86 301.76 L654.99 302.12 L655.11 302.48 L655.24 302.83 L655.37 303.19 L655.50 303.54 L655.64 303.90 L655.77 304.25 L655.90 304.61 L656.04 304.96 L656.17 305.32 L656.31 305.67 L656.44 306.02 L656.58 306.38 L656.72 306.73 L656.86 307.08 L657.00 307.43 L657.14 307.78 L657.28 308.14 L657.42 308.49 L657.56 308.84 L657.71 309.19 L657.85 309.54 L658.00 309.89 L658.14 310.24 L658.29 310.59 L658.43 310.94 L658.58 311.28 L658.73 311.63 L658.88 311.98 L659.03 312.33 L659.18 312.68 L659.34 313.02 L659.49 313.37 L659.64 313.71 L659.80 314.06 L659.95 314.41 L660.11 314.75 L660.26 315.10 L660.42 315.44 L660.58 315.78 L660.74 316.13 L660.90 316.47 L661.06 316.81 L661.22 317.16 L661.38 317.50 L661.55 317.84 L661.71 318.18 L661.87 318.52 L662.04 318.87 L662.20 319.21 L662.37 319.55 L662.54 319.89 L662.71 320.23 L662.88 320.56 L663.04 320.90 L663.22 321.24 L663.39 321.58 L663.56 321.92 L663.73 322.25 L663.90 322.59 L664.08 322.93 L664.25 323.26 L664.43 323.60 L664.61 323.93 L664.78 324.27 L664.96 324.60 L665.14 324.94 L665.32 325.27" fill="none" stroke="#080808" stroke-width="1.6"/>
<path d="M647.22 217.48 L648.59 218.83 L649.90 220.24 L651.13 221.73 L652.28 223.27 L653.36 224.87 L654.35 226.52 L655.25 228.23 L656.07 229.97 L656.79 231.76 L657.42 233.58 L657.96 235.43 L658.40 237.31 L658.75 239.20 L659.00 241.11 L659.15 243.03 L659.20 244.96 L659.15 246.89 L659.01 248.81 L658.76 250.72 L658.42 252.62 L657.98 254.49 L657.45 256.35 L656.82 258.17 L656.10 259.96 L655.29 261.70 L654.39 263.41 L653.40 265.06 L652.33 266.67 L651.18 268.21 L649.95 269.70 L648.65 271.12 L647.27 272.47" fill="none" stroke="#080808" stroke-width="1.6"/>
<circle cx="621.60" cy="245.00" r="28.00" fill="#fff" stroke="#080808" stroke-width="1.6"/>
<circle cx="621.55" cy="244.10" r="11.00" fill="none" stroke="#080808" stroke-width="1.6"/>
<circle cx="903.75" cy="87.60" r="12.90" fill="none" stroke="#080808" stroke-width="1.6"/>
<circle cx="904.30" cy="402.10" r="12.60" fill="none" stroke="#080808" stroke-width="1.6"/>
<circle cx="731.70" cy="130.80" r="9.00" fill="none" stroke="#080808" stroke-width="1.6"/>
<circle cx="770.30" cy="110.80" r="9.00" fill="none" stroke="#080808" stroke-width="1.6"/>
<circle cx="813.70" cy="105.00" r="9.00" fill="none" stroke="#080808" stroke-width="1.6"/>
<circle cx="902.80" cy="134.90" r="9.00" fill="none" stroke="#080808" stroke-width="1.6"/>
<circle cx="927.70" cy="161.50" r="9.00" fill="none" stroke="#080808" stroke-width="1.6"/>
<circle cx="952.90" cy="243.90" r="9.00" fill="none" stroke="#080808" stroke-width="1.6"/>
<circle cx="927.10" cy="326.20" r="9.00" fill="none" stroke="#080808" stroke-width="1.6"/>
<circle cx="901.80" cy="353.50" r="9.00" fill="none" stroke="#080808" stroke-width="1.6"/>
<circle cx="857.00" cy="377.50" r="9.00" fill="none" stroke="#080808" stroke-width="1.6"/>
<circle cx="813.30" cy="384.70" r="9.00" fill="none" stroke="#080808" stroke-width="1.6"/>
<circle cx="730.80" cy="357.50" r="9.00" fill="none" stroke="#080808" stroke-width="1.6"/>
<circle cx="681.70" cy="286.20" r="9.00" fill="none" stroke="#080808" stroke-width="1.6"/>
<circle cx="673.20" cy="243.50" r="9.00" fill="none" stroke="#080808" stroke-width="1.6"/>
<circle cx="853.70" cy="99.70" r="12.40" fill="none" stroke="#080808" stroke-width="1.6"/>
<circle cx="853.70" cy="99.70" r="9.20" fill="none" stroke="#080808" stroke-width="1.6"/>
<path d="M857.70 99.70 L856.38 100.81 L856.53 102.53 L854.81 102.38 L853.70 103.70 L852.59 102.38 L850.87 102.53 L851.02 100.81 L849.70 99.70 L851.02 98.59 L850.87 96.87 L852.59 97.02 L853.70 95.70 L854.81 97.02 L856.53 96.87 L856.38 98.59 Z" fill="none" stroke="#080808" stroke-width="1.2"/>
<circle cx="958.30" cy="283.20" r="12.40" fill="none" stroke="#080808" stroke-width="1.6"/>
<circle cx="958.30" cy="283.20" r="9.20" fill="none" stroke="#080808" stroke-width="1.6"/>
<path d="M962.30 283.20 L960.98 284.31 L961.13 286.03 L959.41 285.88 L958.30 287.20 L957.19 285.88 L955.47 286.03 L955.62 284.31 L954.30 283.20 L955.62 282.09 L955.47 280.37 L957.19 280.52 L958.30 279.20 L959.41 280.52 L961.13 280.37 L960.98 282.09 Z" fill="none" stroke="#080808" stroke-width="1.2"/>
<circle cx="774.70" cy="390.00" r="12.40" fill="none" stroke="#080808" stroke-width="1.6"/>
<circle cx="774.70" cy="390.00" r="9.20" fill="none" stroke="#080808" stroke-width="1.6"/>
<path d="M778.70 390.00 L777.38 391.11 L777.53 392.83 L775.81 392.68 L774.70 394.00 L773.59 392.68 L771.87 392.83 L772.02 391.11 L770.70 390.00 L772.02 388.89 L771.87 387.17 L773.59 387.32 L774.70 386.00 L775.81 387.32 L777.53 387.17 L777.38 388.89 Z" fill="none" stroke="#080808" stroke-width="1.2"/>
<circle cx="672.80" cy="205.30" r="12.40" fill="none" stroke="#080808" stroke-width="1.6"/>
<circle cx="672.80" cy="205.30" r="9.20" fill="none" stroke="#080808" stroke-width="1.6"/>
<path d="M676.80 205.30 L675.48 206.41 L675.63 208.13 L673.91 207.98 L672.80 209.30 L671.69 207.98 L669.97 208.13 L670.12 206.41 L668.80 205.30 L670.12 204.19 L669.97 202.47 L671.69 202.62 L672.80 201.30 L673.91 202.62 L675.63 202.47 L675.48 204.19 Z" fill="none" stroke="#080808" stroke-width="1.2"/>
<path d="M817.24 171.25 L827.06 131.21 L827.32 129.23 L827.13 127.24 L826.51 125.34 L825.49 123.63 L824.12 122.18 L822.46 121.07 L820.60 120.36 L818.62 120.07 L816.17 120.01 L813.72 120.00 L811.27 120.04 L808.82 120.13 L806.38 120.27 L803.94 120.46 L801.50 120.69 L799.06 120.98 L796.64 121.31 L794.22 121.69 L791.80 122.12 L789.40 122.60 L787.01 123.12 L784.63 123.70 L782.26 124.32 L779.90 124.99 L777.56 125.70 L775.23 126.47 L772.92 127.27 L770.62 128.13 L768.34 129.03 L766.08 129.97 L763.84 130.97 L761.62 132.00 L759.42 133.08 L757.24 134.20 L755.09 135.37 L752.96 136.58 L750.85 137.83 L748.77 139.13 L746.72 140.46 L744.69 141.84 L742.69 143.25 L740.72 144.71 L738.78 146.20 L736.87 147.74 L734.99 149.31 L733.14 150.92 L731.33 152.56 L729.55 154.24 L728.28 155.76 L727.38 157.52 L726.88 159.43 L726.81 161.40 L727.17 163.34 L727.95 165.15 L729.10 166.75 L730.58 168.07 L763.08 191.15" fill="none" stroke="#080808" stroke-width="1.6"/>
<path d="M854.95 183.68 L872.29 146.34 L873.31 144.65 L874.68 143.23 L876.32 142.14 L878.16 141.43 L880.11 141.14 L882.07 141.28 L883.96 141.84 L885.68 142.80 L887.64 144.23 L889.58 145.70 L891.48 147.21 L893.35 148.75 L895.19 150.33 L897.00 151.95 L898.78 153.60 L900.52 155.29 L902.23 157.01 L903.91 158.76 L905.55 160.55 L907.16 162.37 L908.73 164.22 L910.26 166.10 L911.75 168.01 L913.21 169.96 L914.63 171.92 L916.01 173.92 L917.34 175.95 L918.64 178.00 L919.90 180.07 L921.11 182.17 L922.29 184.30 L923.42 186.44 L924.51 188.61 L925.56 190.80 L926.56 193.01 L927.52 195.24 L928.43 197.49 L929.30 199.75 L930.12 202.04 L930.90 204.33 L931.64 206.65 L932.32 208.97 L932.96 211.31 L933.56 213.67 L934.11 216.03 L934.61 218.41 L935.06 220.79 L935.47 223.18 L935.56 225.17 L935.21 227.14 L934.44 228.98 L933.29 230.60 L931.80 231.93 L930.06 232.90 L928.15 233.46 L926.16 233.59 L884.71 231.63" fill="none" stroke="#080808" stroke-width="1.6"/>
<path d="M884.71 258.38 L925.22 260.13 L927.18 260.43 L929.02 261.16 L930.66 262.27 L932.02 263.71 L933.03 265.41 L933.65 267.30 L933.83 269.27 L933.58 271.23 L932.99 273.57 L932.36 275.90 L931.68 278.21 L930.95 280.51 L930.18 282.79 L929.37 285.06 L928.51 287.32 L927.60 289.55 L926.66 291.77 L925.66 293.96 L924.63 296.14 L923.55 298.30 L922.43 300.43 L921.27 302.55 L920.07 304.64 L918.83 306.70 L917.54 308.74 L916.22 310.76 L914.86 312.75 L913.46 314.71 L912.01 316.64 L910.54 318.55 L909.02 320.42 L907.47 322.27 L905.88 324.08 L904.26 325.86 L902.60 327.61 L900.91 329.33 L899.18 331.02 L897.42 332.67 L895.63 334.28 L893.81 335.86 L891.96 337.40 L890.08 338.91 L888.16 340.38 L886.22 341.81 L884.26 343.20 L882.26 344.55 L880.24 345.87 L878.19 347.14 L876.38 347.98 L874.43 348.41 L872.43 348.39 L870.48 347.93 L868.69 347.05 L867.13 345.80 L865.89 344.23 L865.02 342.43 L851.63 304.28" fill="none" stroke="#080808" stroke-width="1.6"/>
<path d="M817.57 313.69 L828.00 353.62 L828.29 355.61 L828.13 357.60 L827.54 359.51 L826.53 361.25 L825.17 362.72 L823.52 363.85 L821.65 364.58 L819.68 364.89 L817.22 364.97 L814.77 365.00 L812.32 364.98 L809.87 364.91 L807.42 364.79 L804.97 364.63 L802.52 364.41 L800.09 364.15 L797.65 363.84 L795.23 363.47 L792.81 363.06 L790.40 362.61 L788.00 362.10 L785.61 361.54 L783.23 360.94 L780.87 360.29 L778.51 359.60 L776.18 358.85 L773.86 358.06 L771.55 357.22 L769.26 356.34 L766.99 355.41 L764.74 354.44 L762.51 353.42 L760.30 352.36 L758.11 351.25 L755.94 350.10 L753.80 348.90 L751.68 347.67 L749.59 346.39 L747.52 345.07 L745.48 343.71 L743.47 342.30 L741.48 340.86 L739.53 339.38 L737.60 337.86 L735.71 336.30 L733.85 334.70 L732.02 333.07 L730.22 331.40 L728.92 329.86 L728.00 328.07 L727.50 326.11 L727.45 324.10 L727.84 322.12 L728.67 320.28 L729.89 318.67 L731.43 317.37 L764.99 295.06" fill="none" stroke="#080808" stroke-width="1.6"/>
<path d="M748.39 214.68 L713.36 193.63 L711.58 192.81 L709.68 192.40 L707.72 192.40 L705.81 192.83 L704.04 193.66 L702.49 194.85 L701.24 196.35 L700.34 198.08 L699.50 200.29 L698.71 202.51 L697.96 204.74 L697.26 206.99 L696.60 209.26 L695.98 211.53 L695.41 213.82 L694.88 216.11 L694.39 218.42 L693.95 220.74 L693.55 223.06 L693.20 225.39 L692.89 227.73 L692.63 230.07 L692.42 232.42 L692.24 234.77 L692.12 237.12 L692.04 239.48 L692.00 241.83 L692.01 244.19 L692.07 246.55 L692.17 248.90 L692.31 251.26 L692.50 253.61 L692.74 255.95 L693.02 258.29 L693.35 260.63 L693.72 262.95 L694.14 265.27 L694.60 267.59 L695.10 269.89 L695.65 272.18 L696.24 274.46 L696.88 276.73 L697.56 278.99 L698.28 281.23 L699.05 283.46 L699.86 285.67 L700.71 287.87 L701.61 290.05 L702.55 291.76 L703.84 293.22 L705.42 294.36 L707.20 295.15 L709.11 295.52 L711.06 295.48 L712.95 295.03 L714.71 294.17 L748.25 272.99" fill="none" stroke="#080808" stroke-width="1.6"/>
<circle cx="814.60" cy="242.45" r="82.80" fill="#fff" stroke="#080808" stroke-width="1.6"/>
<circle cx="814.80" cy="242.30" r="37.20" fill="none" stroke="#080808" stroke-width="1.6"/>
<path d="M814.60 274.00 L787.75 258.50 L787.75 227.50 L814.60 212.00 L841.45 227.50 L841.45 258.50 Z" fill="none" stroke="#080808" stroke-width="1.6"/>
<circle cx="814.80" cy="242.30" r="24.00" fill="none" stroke="#080808" stroke-width="1.6"/>
<circle cx="814.80" cy="242.10" r="13.30" fill="none" stroke="#080808" stroke-width="1.6"/>
<line x1="568.20" y1="298.75" x2="617.65" y2="249.44" stroke="#080808" stroke-width="1.3"/>
<path d="M621.90 245.20 L619.77 251.56 L615.53 247.31 Z" fill="#111"/>
<line x1="956.70" y1="35.60" x2="907.77" y2="83.79" stroke="#080808" stroke-width="1.3"/>
<path d="M903.50 88.00 L905.67 81.65 L909.88 85.93 Z" fill="#111"/>
<line x1="957.10" y1="453.30" x2="908.06" y2="404.72" stroke="#080808" stroke-width="1.3"/>
<path d="M903.80 400.50 L910.17 402.59 L905.95 406.85 Z" fill="#111"/>
</svg>
<div class="title">A4073(P-INA)</div>
<div class="tb" style="left:10px;top:516px;width:1056px;height:199px"></div><div class="c lab" style="left:12px;top:518px;width:219px;height:31px;line-height:31px"><span style="position:relative;top:-1px;letter-spacing:0.453px">Voltage</span></div><div class="c val" style="left:232px;top:518px;width:326px;height:31px;line-height:31px"><span style="position:relative;top:-1px;letter-spacing:0.359px">12 V</span></div><div class="c lab" style="left:559px;top:518px;width:179px;height:31px;line-height:31px"><span style="position:relative;top:-1px;letter-spacing:0.253px">Pulley</span></div><div class="c val" style="left:739px;top:518px;width:325px;height:31px;line-height:31px"><span style="position:relative;top:-1px;letter-spacing:-0.238px">AFP-INA&nbsp;</span></div><div class="c lab" style="left:12px;top:550px;width:219px;height:32px;line-height:32px"><span style="position:relative;top:-1px;letter-spacing:0.512px">Amp.</span></div><div class="c val" style="left:232px;top:550px;width:326px;height:32px;line-height:32px"><span style="position:relative;top:-1px;letter-spacing:0.575px">120 A</span></div><div class="c lab" style="left:559px;top:550px;width:179px;height:32px;line-height:32px"><span style="position:relative;top:-1px;letter-spacing:0.380px">D.1</span></div><div class="c val" style="left:739px;top:550px;width:325px;height:32px;line-height:32px"><span style="position:relative;top:-1px;letter-spacing:0.746px">12.50 mm</span></div><div class="c lab" style="left:12px;top:583px;width:219px;height:32px;line-height:32px"><span style="position:relative;top:-1px;letter-spacing:0.154px">Size A</span></div><div class="c val" style="left:232px;top:583px;width:326px;height:32px;line-height:32px"><span style="position:relative;top:-1px;letter-spacing:0.852px">112.50 mm</span></div><div class="c lab" style="left:559px;top:583px;width:179px;height:32px;line-height:32px"><span style="position:relative;top:-1px;letter-spacing:0.380px">D.2</span></div><div class="c val" style="left:739px;top:583px;width:325px;height:32px;line-height:32px"><span style="position:relative;top:-1px;letter-spacing:0.746px">12.50 mm</span></div><div class="c lab" style="left:12px;top:616px;width:219px;height:32px;line-height:32px"><span style="position:relative;top:-1px;letter-spacing:0.031px">Size B</span></div><div class="c val" style="left:232px;top:616px;width:326px;height:32px;line-height:32px"><span style="position:relative;top:-1px;letter-spacing:0.746px">61.00 mm</span></div><div class="c lab" style="left:559px;top:616px;width:179px;height:32px;line-height:32px"><span style="position:relative;top:-1px;letter-spacing:0.214px">L.1</span></div><div class="c val" style="left:739px;top:616px;width:325px;height:32px;line-height:32px"><span style="position:relative;top:-1px;letter-spacing:0.738px">198.00 mm</span></div><div class="c lab" style="left:12px;top:649px;width:219px;height:32px;line-height:32px"><span style="position:relative;top:-1px;letter-spacing:-0.594px">G</span></div><div class="c val" style="left:232px;top:649px;width:326px;height:32px;line-height:32px"><span style="position:relative;top:-1px;letter-spacing:0.560px">6 qty.</span></div><div class="c lab" style="left:559px;top:649px;width:179px;height:32px;line-height:32px"><span style="position:relative;top:-1px;letter-spacing:0.137px">Plug</span></div><div class="c val" style="left:739px;top:649px;width:325px;height:32px;line-height:32px"><span style="position:relative;top:-1px;letter-spacing:0.025px">PL_9104&nbsp;</span></div><div class="c lab" style="left:12px;top:682px;width:219px;height:31px;line-height:31px"><span style="position:relative;top:-1px;letter-spacing:0.106px">O.D.1</span></div><div class="c val" style="left:232px;top:682px;width:326px;height:31px;line-height:31px"><span style="position:relative;top:-1px;letter-spacing:0.746px">61.50 mm</span></div><div class="c lab" style="left:559px;top:682px;width:179px;height:31px;line-height:31px"></div><div class="c val" style="left:739px;top:682px;width:325px;height:31px;line-height:31px"></div>
</body></html>
